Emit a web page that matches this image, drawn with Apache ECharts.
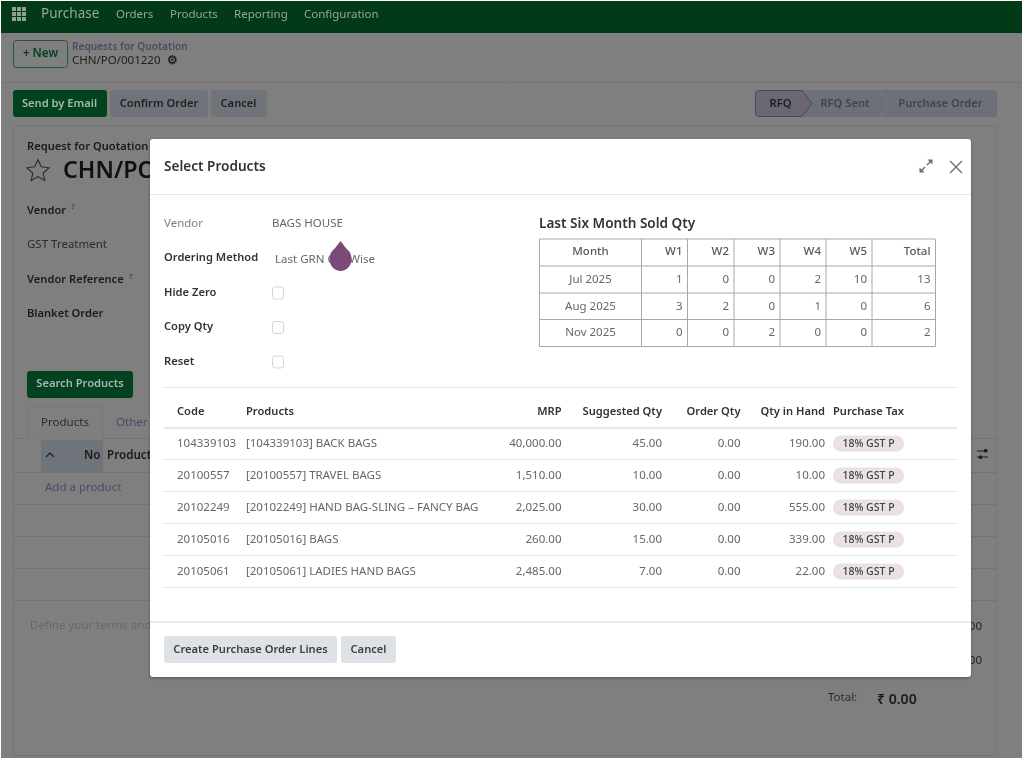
<!DOCTYPE html>
<html>
<head>
<meta charset="utf-8">
<title>Select Products</title>
<style>
html,body{margin:0;padding:0;background:#fff;}
#main{width:1024px;height:760px;}
</style>
<script src="https://cdn.jsdelivr.net/npm/echarts@6/dist/echarts.min.js"></script>
</head>
<body>
<div id="main"></div>
<script>
// sold qty table
var months = ['Jul 2025', 'Aug 2025', 'Nov 2025'];
var soldHead = ['Month', 'W1', 'W2', 'W3', 'W4', 'W5', 'Total'];
var w1 = [1, 3, 0];
var w2 = [0, 2, 0];
var w3 = [0, 0, 2];
var w4 = [2, 1, 0];
var w5 = [10, 0, 0];
var totals = [13, 6, 2];

// product table
var lineHead = ['Code', 'Products', 'MRP', 'Suggested Qty', 'Order Qty', 'Qty in Hand', 'Purchase Tax'];
var codes = ['104339103', '20100557', '20102249', '20105016', '20105061'];
var products = ['[104339103] BACK BAGS', '[20100557] TRAVEL BAGS', '[20102249] HAND BAG-SLING \u2013 FANCY BAG', '[20105016] BAGS', '[20105061] LADIES HAND BAGS'];
var mrp = ['40,000.00', '1,510.00', '2,025.00', '260.00', '2,485.00'];
var suggested = ['45.00', '10.00', '30.00', '15.00', '7.00'];
var orderQty = ['0.00', '0.00', '0.00', '0.00', '0.00'];
var inHand = ['190.00', '10.00', '555.00', '339.00', '22.00'];
var taxes = ['18% GST P', '18% GST P', '18% GST P', '18% GST P', '18% GST P'];

var menuItems = ['Orders', 'Products', 'Reporting', 'Configuration'];
var menuX = [116, 170, 234, 304];
var FONT = '"Noto Sans", sans-serif';
var els = [];

function rect(x, y, w, h, fill, stroke, r) {
    els.push({
        type: 'rect', silent: true,
        shape: {x: x, y: y, width: w, height: h, r: r || 0},
        style: {fill: fill || 'none', stroke: stroke || 'none', lineWidth: stroke ? 1 : 0}
    });
}
function line(x1, y1, x2, y2, color, width) {
    els.push({
        type: 'line', silent: true,
        shape: {x1: x1, y1: y1, x2: x2, y2: y2},
        style: {stroke: color, lineWidth: width || 1}
    });
}
function text(x, y, str, color, size, weight, align) {
    // the semibold face runs wider than the regular one
    var px = weight === 600 ? (size || 12) * 0.97 : (size || 12);
    els.push({
        type: 'text', silent: true, x: x, y: y + 0.5,
        style: {
            text: str, fill: color,
            font: (weight || 'normal') + ' ' + px + 'px ' + FONT,
            align: align || 'left', textAlign: align || 'left',
            verticalAlign: 'middle', textVerticalAlign: 'middle'
        }
    });
}
function poly(points, fill, stroke, lw) {
    els.push({
        type: fill ? 'polygon' : 'polyline', silent: true,
        shape: {points: points},
        style: {fill: fill || 'none', stroke: stroke || 'none', lineWidth: lw || 1}
    });
}

// ---- page behind the dialog
rect(1, 1, 1021, 757, '#7f7f7f');
rect(1, 1, 1021, 32, '#023a18');
for (var gi = 0; gi < 3; gi++) {
    for (var gj = 0; gj < 3; gj++) {
        rect(12 + gi * 5, 7 + gj * 5, 4, 4, '#8fa096');
    }
}
text(41, 14, 'Purchase', '#93a79a', 13.5);
menuItems.forEach(function (m, i) {
    text(menuX[i], 14, m, '#93a79a', 11.5);
});
rect(13.5, 40.5, 54, 27, 'none', '#1f5c3b', 3);
text(40.5, 53.5, '+ New', '#02401e', 12, 600, 'center');
text(72, 47, 'Requests for Quotation', '#4d4866', 10.5, 600);
text(72, 60, 'CHN/PO/001220', '#1e1e1e', 11.5);
text(172, 60, '\u2699', '#1e1e1e', 12, 'bold', 'center');
line(1, 82.5, 1022, 82.5, '#757575');

rect(13, 90, 94, 27, '#02421e', null, 3);
text(59.5, 103, 'Send by Email', '#a6b8ad', 11.5, 600, 'center');
rect(110, 90, 98, 27, '#6e7479', null, 3);
text(159, 103, 'Confirm Order', '#1e2124', 11.5, 600, 'center');
rect(211, 90, 56, 27, '#6e7479', null, 3);
text(238.5, 103, 'Cancel', '#1e2124', 11.5, 600, 'center');

rect(755, 90, 242, 27, '#6b7176', null, 3);
poly([[755.5, 93], [758, 90.5], [802, 90.5], [812, 103.5], [802, 116.5], [758, 116.5], [755.5, 114]], '#6a6672', '#4b4663', 1);
text(780.5, 103, 'RFQ', '#1d1f22', 11.5, 600, 'center');
poly([[880, 90], [890, 103.5], [880, 117]], null, '#777d82', 1);
text(845, 103, 'RFQ Sent', '#3f4449', 11.5, 600, 'center');
text(940.5, 103, 'Purchase Order', '#3f4449', 11.5, 600, 'center');

rect(13.5, 125.5, 983, 630, '#7f7f7f', '#747474', 3);
text(27, 146.5, 'Request for Quotation', '#1a1a1a', 11.5, 600);
poly([[38, 159.5], [41.2, 166.8], [49, 167.8], [43.2, 173], [44.8, 180.5], [38, 176.6], [31.2, 180.5], [32.8, 173], [27, 167.8], [34.8, 166.8]], '#7f7f7f', '#2a2a2a', 1.1);
text(63, 170.5, 'CHN/PO/001220', '#101010', 24, 600);
text(27, 210.5, 'Vendor', '#1a1a1a', 11.5, 600);
text(71, 206, '?', '#1f5c3b', 8, 600);
text(27, 244.5, 'GST Treatment', '#2b2b2b', 11.5);
text(27, 279.5, 'Vendor Reference', '#1a1a1a', 11.5, 600);
text(129, 276, '?', '#1f5c3b', 8, 600);
text(27, 313.5, 'Blanket Order', '#1a1a1a', 11.5, 600);
rect(27, 371, 106, 27, '#02421e', null, 3);
text(80, 383.5, 'Search Products', '#a6b8ad', 11.5, 600, 'center');

// tab strip and the empty order lines
line(14, 438.5, 997, 438.5, '#737373');
rect(27.5, 406.5, 75, 33, '#7f7f7f', '#767676', 2);
line(28, 439, 102, 439, '#7f7f7f', 1.5);
text(65, 422, 'Products', '#2b2b2b', 11.5, null, 'center');
text(116, 422, 'Other', '#4d4866', 11.5);
rect(41, 440, 62, 32, '#6e7479');
poly([[46, 457], [50, 453], [54, 457]], null, '#1d1d1d', 1.1);
text(84, 455, 'No', '#1a1a1a', 12, 600);
text(107, 455, 'Product', '#1a1a1a', 12, 600);
var pageRows = [472.5, 504.5, 536.5, 568.5, 600.5];
pageRows.forEach(function (y) {
    line(14, y, 997, y, '#737373');
});
text(45, 487.5, 'Add a product', '#4d4866', 11.5);
text(30, 625, 'Define your terms and', '#686868', 11.5);
text(982, 626.5, '00', '#222', 11.5, null, 'right');
text(982, 660.5, '00', '#222', 11.5, null, 'right');
line(977, 451, 988, 451, '#1d1d1d', 1);
line(977, 457, 988, 457, '#1d1d1d', 1);
rect(984, 449, 3, 3.5, '#1d1d1d', null, 1);
rect(979, 455.5, 3, 3.5, '#1d1d1d', null, 1);
text(828, 697.5, 'Total:', '#2b2b2b', 11.5);
text(877, 699, '\u20b9 0.00', '#1a1a1a', 14.5, 600);

// ---- dialog
els.push({
    type: 'rect', silent: true,
    shape: {x: 150, y: 139, width: 821, height: 538, r: 3},
    style: {fill: '#fff', shadowBlur: 3, shadowColor: 'rgba(0,0,0,0.35)', shadowOffsetY: 1}
});
text(164, 167, 'Select Products', '#2f3338', 14, 600);
line(150, 194.5, 971, 194.5, '#e4e5e7');
line(950, 161, 962, 173, '#666b70', 1.2);
line(962, 161, 950, 173, '#666b70', 1.2);
// expand icon
poly([[919.5, 172.5], [919.5, 167.5], [924.5, 172.5]], '#666b70');
poly([[932.5, 159.5], [927.5, 159.5], [932.5, 164.5]], '#666b70');
line(921.5, 170.5, 925, 167, '#666b70', 1.4);
line(927, 165, 930.5, 161.5, '#666b70', 1.4);

var GREY = '#62676c', DARK = '#2f3338';
text(164, 223, 'Vendor', '#7b8085', 11.5);
text(272, 223, 'BAGS HOUSE', GREY, 11.5);
text(164, 257.5, 'Ordering Method', DARK, 11.5, 600);
text(275, 259, 'Last GRN Qty Wise', GREY, 11.5);
var checks = ['Hide Zero', 'Copy Qty', 'Reset'];
var checkY = [292, 326.5, 361];
checks.forEach(function (c, i) {
    text(164, checkY[i], c, DARK, 11.5, 600);
    rect(272.5, checkY[i] - 5, 11, 12, '#fff', '#d3d5d8', 2.5);
});

// sold qty
text(539, 223.5, 'Last Six Month Sold Qty', DARK, 14, 600);
var soldX = [539.5, 641.5, 687.5, 734, 780, 826, 872, 935.5];
var soldY = [239, 266, 293, 319.5, 346.5];
var soldCols = [months, w1, w2, w3, w4, w5, totals];
soldX.forEach(function (x) {
    line(x, soldY[0], x, soldY[4], '#a6a8ab', 1);
});
soldY.forEach(function (y) {
    line(soldX[0], y, soldX[7], y, '#a6a8ab', 1);
});
soldCols.forEach(function (col, c) {
    var px = c === 0 ? (soldX[0] + soldX[1]) / 2 : soldX[c + 1] - 5;
    var al = c === 0 ? 'center' : 'right';
    text(px, 251.5, soldHead[c], '#54595e', 11.5, 500, al);
    col.forEach(function (v, r) {
        text(px, (soldY[r + 1] + soldY[r + 2]) / 2 - 0.5, String(v), GREY, 11.5, null, al);
    });
});

line(164, 387.5, 957, 387.5, '#e4e5e7');

// product lines
var lineX = [177, 246, 561.5, 662, 740.5, 825, 833];
var lineAlign = ['left', 'left', 'right', 'right', 'right', 'right', 'left'];
lineHead.forEach(function (h, c) {
    text(lineX[c], 411, h, DARK, 11.5, 600, lineAlign[c]);
});
line(164, 428, 957, 428, '#dfe2e6', 1.5);
var lineCols = [codes, products, mrp, suggested, orderQty, inHand];
codes.forEach(function (code, r) {
    var cy = 443 + r * 32;
    lineCols.forEach(function (col, c) {
        text(lineX[c], cy, col[r], GREY, 11.5, null, lineAlign[c]);
    });
    rect(833, cy - 7.5, 71, 16, '#ebe1e1', null, 8);
    text(868.5, cy + 0.5, taxes[r], '#3d4146', 10.5, 500, 'center');
    line(164, 459.5 + r * 32, 957, 459.5 + r * 32, '#e4e7eb');
});

line(150, 622, 971, 622, '#e6e6e6', 1.5);
rect(164, 636, 173, 27, '#dee2e6', null, 3);
text(250.5, 649, 'Create Purchase Order Lines', '#3a3f44', 11.5, 600, 'center');
rect(341, 636, 55, 27, '#dee2e6', null, 3);
text(368.5, 649, 'Cancel', '#3a3f44', 11.5, 600, 'center');

// cursor drop over the ordering method
els.push({
    type: 'ellipse', silent: true,
    shape: {cx: 340.5, cy: 259, rx: 11, ry: 12},
    style: {fill: '#7a4b78'}
});
poly([[340.5, 241], [350.5, 254], [330.5, 254]], '#7a4b78');

var myChart = echarts.init(document.getElementById('main'), null, {renderer: 'canvas'});
myChart.setOption({
    animation: false,
    backgroundColor: '#fff',
    graphic: {elements: els}
});
</script>
</body>
</html>
